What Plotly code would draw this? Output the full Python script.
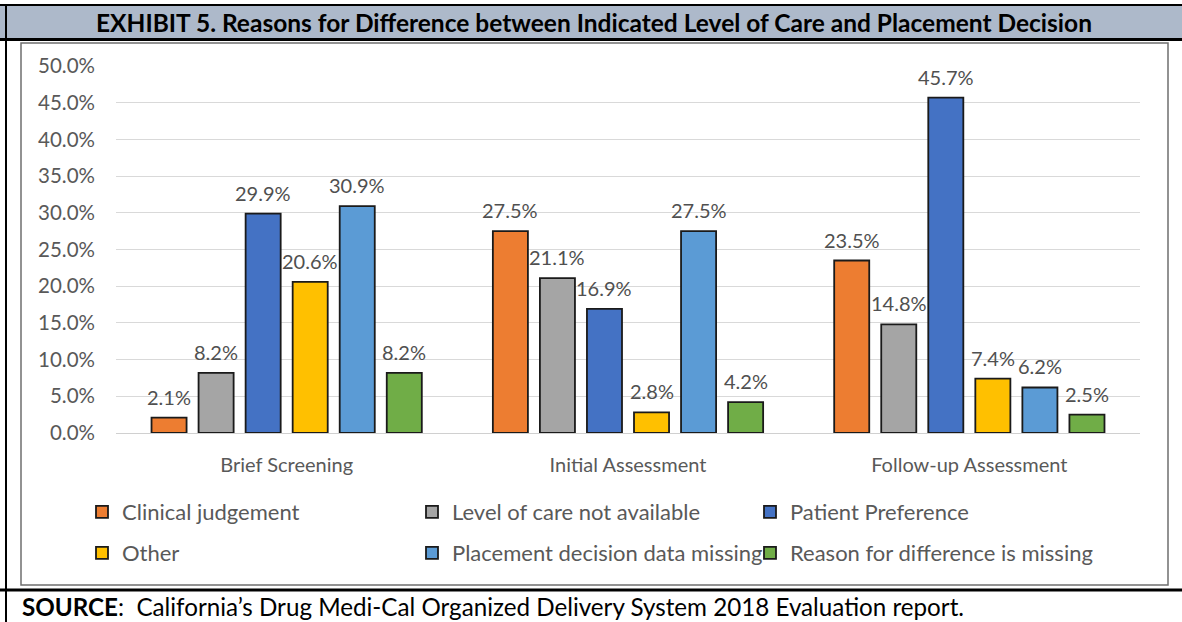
import plotly.graph_objects as go

categories = ["Brief Screening", "Initial Assessment", "Follow-up Assessment"]
series_names = [
    "Clinical judgement",
    "Level of care not available",
    "Patient Preference",
    "Other",
    "Placement decision data missing",
    "Reason for difference is missing",
]
clinical_judgement = [2.1, 27.5, 23.5]
level_of_care_not_available = [8.2, 21.1, 14.8]
patient_preference = [29.9, 16.9, 45.7]
other = [20.6, 2.8, 7.4]
placement_decision_data_missing = [30.9, 27.5, 6.2]
reason_for_difference_missing = [8.2, 4.2, 2.5]
series_values = [
    clinical_judgement,
    level_of_care_not_available,
    patient_preference,
    other,
    placement_decision_data_missing,
    reason_for_difference_missing,
]
y_ticks = [0, 5, 10, 15, 20, 25, 30, 35, 40, 45, 50]
y_tick_labels = ["0.0%", "5.0%", "10.0%", "15.0%", "20.0%", "25.0%",
                 "30.0%", "35.0%", "40.0%", "45.0%", "50.0%"]

colors = ["#ED7D31", "#A5A5A5", "#4472C4", "#FFC000", "#5B9BD5", "#70AD47"]

W, H = 1182, 622
L, R, T, B = 116, 42, 66, 189
PW = W - L - R
PH = H - T - B
BARGAP = 0.173
BARGROUPGAP = 0.255


def fx(p):
    return (p - L) / PW


def fy(p):
    return (H - B - p) / PH


FONT = "Lato"
legend_names = ["legend", "legend2", "legend3", "legend4", "legend5", "legend6"]
legend_x = [82, 412, 750, 82, 412, 750]
legend_y = [512, 512, 512, 553, 553, 553]

fig = go.Figure()
for i, (name, vals) in enumerate(zip(series_names, series_values)):
    fig.add_trace(go.Bar(
        name=name,
        x=categories,
        y=vals,
        marker=dict(color=colors[i], line=dict(color="#1a1a1a", width=1.8)),
        legend=legend_names[i],
        hoverinfo="skip",
    ))

# data labels, placed over each bar via the axes
n_series = len(series_values)
slot = (PW / len(categories)) * (1 - BARGAP) / n_series
label_annotations = []
for i, vals in enumerate(series_values):
    for cat, v in zip(categories, vals):
        label_annotations.append(dict(
            xref="x", yref="y", x=cat, y=v,
            xshift=(i - (n_series - 1) / 2) * slot, yshift=21,
            xanchor="center", yanchor="middle",
            text=f"{v:.1f}%", showarrow=False,
            font=dict(family=FONT, size=20, color="#505050"),
        ))

layout_legends = {}
for i, ln in enumerate(legend_names):
    layout_legends[ln] = dict(
        x=fx(legend_x[i]), y=fy(legend_y[i]),
        xanchor="left", yanchor="middle",
        orientation="v",
        bgcolor="rgba(0,0,0,0)",
        borderwidth=0,
        font=dict(family=FONT, size=22, color="#595959"),
    )

shapes = [
    # title bar
    dict(type="rect", xref="paper", yref="paper", x0=fx(0), x1=fx(W), y0=fy(39), y1=fy(5),
         fillcolor="#ADB9CA", line=dict(width=0), layer="below"),
    dict(type="line", xref="paper", yref="paper", x0=fx(0), x1=fx(W), y0=fy(5), y1=fy(5),
         line=dict(color="black", width=2)),
    dict(type="line", xref="paper", yref="paper", x0=fx(0), x1=fx(W), y0=fy(39.5), y1=fy(39.5),
         line=dict(color="black", width=3)),
    # left border
    dict(type="line", xref="paper", yref="paper", x0=fx(6), x1=fx(6), y0=fy(5), y1=fy(H),
         line=dict(color="black", width=2)),
    # chart box
    dict(type="rect", xref="paper", yref="paper", x0=fx(21), x1=fx(1168), y0=fy(585), y1=fy(43),
         line=dict(color="#6F6F6F", width=1.5), fillcolor="rgba(0,0,0,0)"),
    # source separator
    dict(type="line", xref="paper", yref="paper", x0=fx(0), x1=fx(W), y0=fy(590), y1=fy(590),
         line=dict(color="black", width=3)),
]

annotations = [
    dict(xref="paper", yref="paper", x=fx(594), y=fy(23), xanchor="center", yanchor="middle",
         text="<b>EXHIBIT 5. Reasons for Difference between Indicated Level of Care and Placement Decision</b>",
         showarrow=False, font=dict(family=FONT, size=24.5, color="black")),
    dict(xref="paper", yref="paper", x=fx(20), y=fy(606), xanchor="left", yanchor="middle",
         text="<b>SOURCE</b>:  California\u2019s Drug Medi-Cal Organized Delivery System 2018 Evaluation report.",
         showarrow=False, font=dict(family=FONT, size=24.2, color="black")),
] + label_annotations

fig.update_layout(
    width=W, height=H,
    margin=dict(l=L, r=R, t=T, b=B, autoexpand=False),
    paper_bgcolor="white",
    plot_bgcolor="white",
    barmode="group",
    bargap=BARGAP,
    bargroupgap=BARGROUPGAP,
    showlegend=True,
    shapes=shapes,
    annotations=annotations,
    font=dict(family=FONT, size=20, color="#595959"),
    **layout_legends,
)
fig.update_xaxes(
    showgrid=False, showline=False, ticks="",
    tickfont=dict(family=FONT, size=20, color="#595959"),
    ticklabelstandoff=18,
)
fig.update_yaxes(
    range=[0, 50], tickvals=y_ticks, ticktext=y_tick_labels,
    showgrid=True, gridcolor="#D9D9D9", gridwidth=1,
    zeroline=True, zerolinecolor="#D0D0D0", zerolinewidth=1,
    showline=False, ticks="",
    tickfont=dict(family=FONT, size=20.5, color="#595959"),
    ticklabelstandoff=20,
)

fig.write_html(
    "out.html",
    config={"displayModeBar": False},
    post_script="document.body.style.margin='0';document.body.style.padding='0';",
)
